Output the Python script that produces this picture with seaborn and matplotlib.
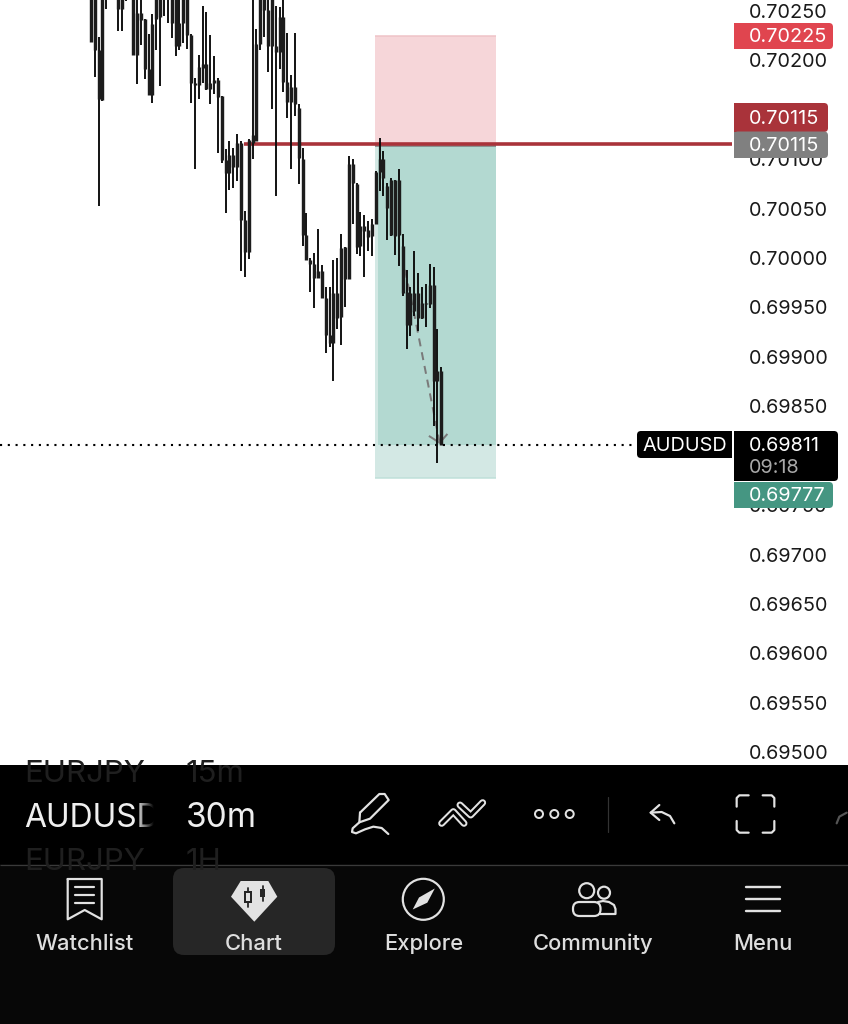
import numpy as np
import pandas as pd
import matplotlib
matplotlib.use("Agg")
import matplotlib.pyplot as plt
import seaborn as sns
from matplotlib.patches import Rectangle, FancyBboxPatch, Circle, Polygon

# AUDUSD 30m candles (many highs run above the visible area)
highs = [0.70300, 0.70295, 0.70224, 0.70290, 0.70290, 0.70300, 0.70305, 0.70300, 0.70295, 0.70300,
         0.70310, 0.70300, 0.70275, 0.70280, 0.70242, 0.70227, 0.70247, 0.70285, 0.70290, 0.70300,
         0.70295, 0.70290, 0.70285, 0.70280, 0.70285, 0.70285, 0.70227, 0.70182, 0.70205, 0.70255,
         0.70249, 0.70226, 0.70204, 0.70182, 0.70164, 0.70110, 0.70118, 0.70111, 0.70126, 0.70118,
         0.70048, 0.70120, 0.70300, 0.70232, 0.70290, 0.70290, 0.70290, 0.70285, 0.70255, 0.70254,
         0.70280, 0.70228, 0.70185, 0.70228, 0.70156, 0.70111, 0.70046, 0.70000, 0.70005, 0.70029,
         0.69993, 0.69971, 0.69971, 0.69998, 0.70000, 0.70024, 0.70011, 0.70103, 0.70100, 0.70076,
         0.70047, 0.70044, 0.70037, 0.70039, 0.70088, 0.70121, 0.70108, 0.70076, 0.70081, 0.70079,
         0.70090, 0.70024, 0.69988, 0.69971, 0.70007, 0.69985, 0.69971, 0.69974, 0.69994, 0.69991,
         0.69928, 0.69890]
lows = [0.70219, 0.70183, 0.70053, 0.70159, 0.70252, 0.70270, 0.70272, 0.70230, 0.70230, 0.70260,
        0.70268, 0.70205, 0.70176, 0.70216, 0.70181, 0.70165, 0.70157, 0.70210, 0.70174, 0.70245,
        0.70238, 0.70223, 0.70204, 0.70211, 0.70218, 0.70212, 0.70157, 0.70090, 0.70161, 0.70177,
        0.70170, 0.70156, 0.70166, 0.70106, 0.70096, 0.70046, 0.70069, 0.70071, 0.70078, 0.69987,
        0.69981, 0.69999, 0.70100, 0.70118, 0.70210, 0.70224, 0.70188, 0.70151, 0.70063, 0.70191,
        0.70168, 0.70142, 0.70090, 0.70144, 0.70075, 0.70012, 0.69998, 0.69966, 0.69949, 0.69980,
        0.69960, 0.69904, 0.69910, 0.69876, 0.69928, 0.69912, 0.69950, 0.69979, 0.70034, 0.70004,
        0.70002, 0.69981, 0.70007, 0.70002, 0.70034, 0.70068, 0.70063, 0.70018, 0.70022, 0.70003,
        0.69992, 0.69962, 0.69908, 0.69921, 0.69941, 0.69926, 0.69938, 0.69930, 0.69949, 0.69830,
        0.69793, 0.69811]
body_tops = [0.70280, 0.70275, 0.70210, 0.70280, 0.70280, 0.70290, 0.70295, 0.70285, 0.70280, 0.70285,
             0.70295, 0.70285, 0.70248, 0.70248, 0.70242, 0.70191, 0.70237, 0.70275, 0.70280, 0.70285,
             0.70280, 0.70275, 0.70270, 0.70238, 0.70270, 0.70270, 0.70226, 0.70177, 0.70193, 0.70196,
             0.70196, 0.70177, 0.70180, 0.70180, 0.70164, 0.70099, 0.70104, 0.70104, 0.70116, 0.70116,
             0.70038, 0.70119, 0.70125, 0.70217, 0.70275, 0.70275, 0.70251, 0.70265, 0.70215, 0.70244,
             0.70244, 0.70178, 0.70173, 0.70173, 0.70152, 0.70100, 0.70023, 0.69998, 0.69994, 0.69987,
             0.69987, 0.69960, 0.69922, 0.69965, 0.69965, 0.70010, 0.70011, 0.70095, 0.70095, 0.70075,
             0.70032, 0.70032, 0.70028, 0.70034, 0.70087, 0.70100, 0.70100, 0.70073, 0.70079, 0.70079,
             0.70079, 0.70012, 0.69966, 0.69965, 0.69965, 0.69965, 0.69955, 0.69955, 0.69973, 0.69973,
             0.69886, 0.69886]
body_bottoms = [0.70219, 0.70210, 0.70161, 0.70160, 0.70265, 0.70275, 0.70280, 0.70252, 0.70252, 0.70268,
                0.70275, 0.70205, 0.70205, 0.70241, 0.70191, 0.70165, 0.70165, 0.70242, 0.70244, 0.70262,
                0.70265, 0.70238, 0.70215, 0.70215, 0.70238, 0.70226, 0.70177, 0.70175, 0.70175, 0.70192,
                0.70171, 0.70171, 0.70177, 0.70163, 0.70099, 0.70086, 0.70086, 0.70092, 0.70092, 0.70038,
                0.70006, 0.70006, 0.70116, 0.70118, 0.70217, 0.70251, 0.70215, 0.70215, 0.70208, 0.70208,
                0.70178, 0.70158, 0.70158, 0.70156, 0.70101, 0.70023, 0.69998, 0.69994, 0.69980, 0.69980,
                0.69960, 0.69922, 0.69914, 0.69914, 0.69939, 0.69940, 0.69979, 0.69979, 0.70076, 0.70011,
                0.70012, 0.70027, 0.70021, 0.70022, 0.70034, 0.70087, 0.70081, 0.70051, 0.70023, 0.70022,
                0.70023, 0.69965, 0.69932, 0.69932, 0.69946, 0.69939, 0.69939, 0.69953, 0.69953, 0.69876,
                0.69876, 0.69811]

# 0.70150 and 0.69800 sit fully behind the price tags, so they are left out
price_ticks = [0.70250, 0.70200, 0.70100, 0.70050, 0.70000, 0.69950, 0.69900,
               0.69850, 0.69750, 0.69700, 0.69650, 0.69600, 0.69550, 0.69500]

stop_price = 0.70225
entry_price = 0.70115
target_price = 0.69777
last_price = 0.69811
countdown = "09:18"
symbol = "AUDUSD"
interval = "30m"

nav_labels = ["Watchlist", "Chart", "Explore", "Community", "Menu"]
nav_x = [84.5, 254, 423.5, 593, 762.5]

# short position tool, in candle numbers
tool_start = 73.7
tool_live_start = 74.7
tool_end = 105.1
line_start = 39.9
line_end = 166.6

# projected path of the trade
path_x = [81.6, 84.1, 90.6]
path_y = [0.69988, 0.69941, 0.69813]
head_x = [87.8, 90.6, 92.6]
head_y = [0.69820, 0.69813, 0.69822]

W, H = 848, 1024
ICON = "#e2e2e2"
FONT = "Inter"
PRICE_SIZE = 14.3

sns.set_theme(style="white")
plt.rcParams["font.family"] = [FONT, "DejaVu Sans"]
plt.rcParams["lines.solid_capstyle"] = "butt"
plt.rcParams["lines.dash_capstyle"] = "butt"


def px(n):
    return n * 0.72


fig = plt.figure(figsize=(W / 100, H / 100), dpi=100, facecolor="white")
chart_h = 765
ax = fig.add_axes([0, 1 - chart_h / H, 745 / W, chart_h / H])
ax.set_xlim(-23.6, 169.9)
ax.set_ylim(0.69487, 0.702611)
sns.despine(ax=ax, left=True, bottom=True, right=True, top=True)

# position boxes
ax.fill_between([tool_start, tool_end], entry_price, stop_price, color="#f6d6d9", lw=0, zorder=1)
ax.fill_between([tool_start, tool_end], target_price, entry_price, color="#d3e8e4", lw=0, zorder=1)
ax.fill_between([tool_live_start, tool_end], last_price, entry_price, color="#b3d9d1", lw=0, zorder=1.1)
sns.lineplot(x=[tool_start, tool_end], y=[stop_price, stop_price], color="#efc3c7", lw=px(1.5), ax=ax, zorder=1.2)
sns.lineplot(x=[tool_start, tool_end], y=[target_price, target_price], color="#bfe0d9", lw=px(1.5), ax=ax, zorder=1.2)

# entry line, gray edge under the red one
sns.lineplot(x=[tool_start, tool_end], y=[entry_price - 0.00002, entry_price - 0.00002],
             color="#7c7c7c", lw=px(1.5), ax=ax, zorder=2)
sns.lineplot(x=[line_start, line_end], y=[entry_price, entry_price], color="#a9333a", lw=px(3.6), ax=ax, zorder=2.1)

# last price, dotted
sns.lineplot(x=[-23.6, 142.0], y=[last_price, last_price], color="#000000", lw=px(2.1),
             linestyle=(0, (1.0, 2.7)), ax=ax, zorder=2)

# projected path
sns.lineplot(x=path_x, y=path_y, sort=False, color="#7a7a7a", lw=px(2), linestyle=(0, (4, 3)), ax=ax, zorder=2.2)
sns.lineplot(x=head_x, y=head_y, sort=False, color="#7a7a7a", lw=px(2), ax=ax, zorder=2.2)

# candles
idx = np.arange(len(highs))
wicks = pd.DataFrame({"idx": idx, "high": highs, "low": lows}).melt(id_vars="idx", value_name="price")
bodies = pd.DataFrame({"idx": idx, "top": body_tops, "bottom": body_bottoms}).melt(id_vars="idx", value_name="price")
sns.lineplot(data=wicks, x="idx", y="price", units="idx", estimator=None, sort=False,
             color="#0c0c0c", lw=px(1.9), ax=ax, zorder=3)
sns.lineplot(data=bodies, x="idx", y="price", units="idx", estimator=None, sort=False,
             color="#1c1c1c", lw=px(3.4), ax=ax, zorder=3)

ax.set_xticks([])
ax.set_xlabel("")
ax.set_ylabel("")
ax.yaxis.tick_right()
ax.set_yticks(price_ticks)
ax.set_yticklabels([f"{p:.5f}" for p in price_ticks], fontsize=PRICE_SIZE, color="#1a1a1a")
ax.tick_params(axis="y", length=0, pad=3)

# everything else goes on a pixel overlay
ov = fig.add_axes([0, 0, 1, 1], zorder=5)
ov.patch.set_alpha(0)
ov.set_axis_off()


def y_of(price):
    return H - ax.transData.transform((0, price))[1]


def tag(x0, x1, y0, y1, color, z=2):
    ov.add_patch(FancyBboxPatch((x0, y0), x1 - x0, y1 - y0, boxstyle="round,pad=0,rounding_size=4",
                                fc=color, ec="none", zorder=z))
    ov.add_patch(Rectangle((x0, y0), (x1 - x0) / 2, y1 - y0, fc=color, ec="none", zorder=z))


def tag_text(x, y, s, color="white", z=2.9, ha="left"):
    ov.text(x, y, s, color=color, fontsize=PRICE_SIZE, va="center", ha=ha, zorder=z)


tag(734, 833, 23, 49, "#e0454f")
tag_text(749, y_of(stop_price) + 1.5, f"{stop_price:.5f}")
tag(734, 828, 103, 132, "#a9333a", 2)
tag_text(749, 119, f"{entry_price:.5f}")
tag(734, 828, 131.5, 158, "#808080", 2.2)
tag_text(749, y_of(entry_price) + 2, f"{entry_price:.5f}")

tag(734, 838, 431, 481, "#000000", 2.5)
tag_text(749, y_of(last_price) + 1.5, f"{last_price:.5f}")
tag_text(749, 468, countdown, "#a8a8a8")
tag(734, 833, 482, 508, "#459682", 2.6)
tag_text(749, 496, f"{target_price:.5f}")
ov.add_patch(FancyBboxPatch((637, 431), 95, 27, boxstyle="round,pad=0,rounding_size=4", fc="#000000", ec="none", zorder=2.5))
ov.add_patch(Rectangle((690, 431), 42, 27, fc="#000000", ec="none", zorder=2.5))
tag_text(684.5, 446, symbol, ha="center")

# bottom app chrome
toolbar = Rectangle((0, 765), W, 99, fc="#000000", ec="none", zorder=3)
ov.add_patch(toolbar)
ov.add_patch(Rectangle((0, 864), W, 160, fc="#070707", ec="none", zorder=3))
ov.plot([0, W], [864.5, 864.5], color="#3a3a3a", lw=px(1.2), zorder=3.1)
ov.add_patch(FancyBboxPatch((173, 868), 162, 87, boxstyle="round,pad=0,rounding_size=11", fc="#262626", ec="none", zorder=3.1))

for label, x_lab, y_lab in [("EURJPY", 24, 782), ("15m", 186, 782), ("EURJPY", 24, 870), ("1H", 186, 870)]:
    t = ov.text(x_lab, y_lab, label, color="#1f1f1f", fontsize=22.5, va="baseline", zorder=3.2)
    t.set_clip_path(toolbar)
ov.text(24, 827, symbol, color="#efefef", fontsize=23, va="baseline", zorder=3.3)
ov.text(186, 827, interval, color="#efefef", fontsize=24, va="baseline", zorder=3.3)

# right edge of the symbol fades out
fade = np.zeros((1, 32, 4))
fade[0, :, 3] = np.linspace(0, 1, 32)
ov.imshow(fade, extent=(136, 154, 835, 795), aspect="auto", zorder=3.4)
ov.add_patch(Rectangle((154, 795), 26, 40, fc="#000000", ec="none", zorder=3.4))

for label, x_lab in zip(nav_labels, nav_x):
    ov.text(x_lab, 950, label, color="#dedede", fontsize=15.8, fontweight="medium",
            ha="center", va="baseline", zorder=3.5)


def stroke(xs, ys, color=ICON, lw=2.2, z=3.5):
    ov.plot(xs, ys, color=color, lw=px(lw), zorder=z, solid_capstyle="round", solid_joinstyle="round")


# watchlist icon
stroke([67.7, 101.7, 101.7, 84.7, 67.7, 67.7], [879, 879, 919.3, 910, 919.3, 879])
for yy in [886.7, 895, 903.3]:
    stroke([75, 94], [yy, yy])

# chart icon
ov.add_patch(Polygon([(231, 896.7), (240.7, 881), (268.3, 881), (277.3, 896.7), (254.3, 921.7)], fc=ICON, ec="none", zorder=3.5))
stroke([247.7, 247.7], [887.7, 906.7], "#262626", 1.8, 3.6)
ov.add_patch(Rectangle((244.7, 892), 6, 10, fc=ICON, ec="#262626", lw=px(2), zorder=3.6))
stroke([262.7, 262.7], [885.7, 901], "#262626", 1.8, 3.6)
ov.add_patch(Rectangle((260, 889), 5.4, 7.7, fc="#262626", ec="none", zorder=3.6))

# explore icon
ov.add_patch(Circle((423.3, 899.3), 20.5, fc="none", ec=ICON, lw=px(2.2), zorder=3.5))
ov.add_patch(Polygon([(434.8, 888.5), (419, 897.5), (412.7, 909.5), (427.3, 902.7)], fc=ICON, ec="none", zorder=3.5))

# community icon
ov.add_patch(Circle((586.7, 890.7), 7.5, fc="none", ec=ICON, lw=px(2.2), zorder=3.5))
ov.add_patch(Circle((604, 892.7), 6, fc="none", ec=ICON, lw=px(2.2), zorder=3.5))
ov.add_patch(FancyBboxPatch((573, 902), 27.5, 14, boxstyle="round,pad=0,rounding_size=6.5", fc="#070707", ec=ICON, lw=px(2.2), zorder=3.6))
stroke([598, 603, 609, 614, 615.5, 615.5, 600], [902, 901, 902, 905, 909, 914, 914])

# menu icon
for yy in [887.3, 899, 910.7]:
    stroke([746, 780], [yy, yy], lw=2.4)


def zx(v):
    return [340 + a / 3 for a in v]


def zy(v):
    return [770 + a / 3 for a in v]


# pen
stroke(zx([60, 118, 134, 146, 90, 58, 60]), zy([128, 72, 72, 90, 146, 157, 128]))
stroke(zx([58, 38, 36, 48, 75, 100, 125, 145]), zy([157, 175, 186, 190, 178, 170, 174, 192]))
# drawing templates icon
for pts in [([305, 340, 372], [160, 125, 160]), ([360, 392, 428], [105, 135, 98])]:
    stroke(zx(pts[0]), zy(pts[1]), lw=7, z=3.5)
    stroke(zx(pts[0]), zy(pts[1]), color="#000000", lw=3, z=3.6)
# more
for cx in [539, 554.3, 569.7]:
    ov.add_patch(Circle((cx, 814), 4, fc="none", ec=ICON, lw=px(2), zorder=3.5))
stroke([608.3, 608.3], [796.7, 831.7], "#333333", 1.2)
# undo
stroke(zx([958, 932, 958]), zy([105, 128, 150]))
stroke(zx([932, 965, 990, 1003]), zy([128, 126, 138, 160]))
# fullscreen corners
for xs, ys in [([1190, 1190, 1198, 1226], [110, 84, 76, 76]),
               ([1268, 1295, 1303, 1303], [76, 76, 84, 110]),
               ([1190, 1190, 1198, 1226], [153, 180, 188, 188]),
               ([1268, 1295, 1303, 1303], [188, 188, 180, 153])]:
    stroke(zx(xs), zy(ys))
stroke(zx([1490, 1498, 1520]), zy([160, 140, 128]), "#555555")

ov.set_xlim(0, W)
ov.set_ylim(H, 0)

fig.savefig("out.png", dpi=100)
plt.close(fig)
